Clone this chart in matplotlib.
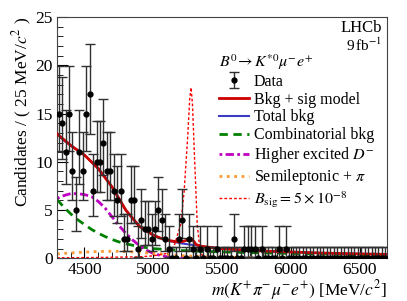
import numpy as np
import matplotlib
matplotlib.use('Agg')
import matplotlib.pyplot as plt

plt.rcParams['font.family'] = ['Liberation Serif', 'DejaVu Serif']
plt.rcParams['mathtext.fontset'] = 'stix'

# data: 25 MeV bins from 4300 to 6700
m_lo, m_hi, m_bin = 4300, 6700, 25
counts = [15, 14, 11, 15, 9, 5, 11, 9, 15, 17,
          7, 10, 10, 12, 9, 9, 7, 6, 7, 2,
          2, 6, 6, 1, 4, 3, 3, 2, 3, 5,
          4, 2, 1, 0, 0, 2, 4, 0, 2, 1,
          0, 1, 0, 1, 0, 0, 1, 0, 0, 0,
          0, 2, 0, 0, 1, 1, 1, 1, 0, 1,
          0, 0, 0, 0, 1, 0, 1, 0, 0, 0,
          0, 0, 0, 0, 0, 0, 0, 0, 0, 0,
          0, 0, 0, 0, 0, 0, 0, 0, 0, 0,
          0, 0, 0, 0, 0, 0]

# poisson 68% intervals (as drawn by RooFit), index = n
pois_lo = [0, 0.173, 0.708, 1.367, 2.086, 2.840, 3.620, 4.419, 5.232, 6.057, 6.891,
           7.734, 8.585, 9.441, 10.30, 11.17, 12.04, 12.92, 13.80, 14.68, 15.57]
pois_hi = [1.147, 3.300, 4.638, 5.918, 7.163, 8.382, 9.584, 10.77, 11.95, 13.11, 14.27,
           15.42, 16.56, 17.70, 18.83, 19.96, 21.08, 22.20, 23.32, 24.44, 25.55]

# fit components
m_bkg = [4300, 4350, 4400, 4450, 4500, 4550, 4600, 4650, 4700, 4750, 4800, 4850,
         4900, 4950, 5000, 5050, 5100, 5150, 5200, 5250, 5300, 5350, 5400, 5500,
         5600, 5800, 6000, 6200, 6400, 6700]
tot_bkg = [12.9, 12.2, 11.7, 11.2, 10.7, 10.0, 9.3, 8.4, 7.4, 6.2, 5.0, 4.1,
           3.3, 2.8, 2.4, 2.1, 1.85, 1.7, 1.55, 1.45, 1.35, 1.25, 1.15, 1.0,
           0.9, 0.75, 0.65, 0.55, 0.48, 0.4]
comb = [6.1, 5.3, 4.6, 4.0, 3.5, 3.0, 2.6, 2.25, 1.95, 1.7, 1.5, 1.35,
        1.2, 1.1, 1.0, 0.95, 0.9, 0.85, 0.8, 0.78, 0.75, 0.72, 0.7, 0.66,
        0.62, 0.55, 0.5, 0.45, 0.4, 0.35]
higher_d = [6.2, 6.5, 6.7, 6.7, 6.6, 6.4, 5.9, 5.2, 4.3, 3.4, 2.6, 1.9,
            1.3, 0.85, 0.5, 0.3, 0.15, 0.07, 0.03, 0.01, 0, 0, 0, 0,
            0, 0, 0, 0, 0, 0]
semilep = [0.45, 0.5, 0.55, 0.6, 0.63, 0.67, 0.7, 0.71, 0.72, 0.71, 0.7, 0.66,
           0.62, 0.56, 0.5, 0.44, 0.38, 0.33, 0.28, 0.24, 0.2, 0.17, 0.15, 0.12,
           0.1, 0.07, 0.05, 0.04, 0.03, 0.02]

m_model = [4300, 4400, 4500, 4600, 4700, 4800, 4900, 5000, 5050, 5100, 5150, 5200,
           5225, 5250, 5265, 5280, 5295, 5310, 5330, 5360, 5400, 5500, 5600, 5800,
           6000, 6200, 6400, 6700]
model = [12.9, 11.7, 10.7, 9.3, 7.4, 5.0, 3.3, 2.4, 2.1, 1.88, 1.75, 1.7,
         1.78, 1.9, 2.0, 2.0, 1.75, 1.45, 1.3, 1.22, 1.15, 1.0, 0.9, 0.75,
         0.65, 0.55, 0.48, 0.4]

m_sig = [4300, 4600, 4900, 5000, 5100, 5150, 5200, 5225, 5250, 5265, 5275,
         5285, 5300, 5320, 5340, 5360, 5400, 6700]
sig = [0.05, 0.08, 0.15, 0.25, 0.5, 1.2, 3.5, 7.0, 12.5, 16.5, 17.7,
       16.0, 10.5, 3.5, 0.8, 0.2, 0.05, 0.0]

fig = plt.figure(figsize=(4.07, 3.01), dpi=100)
ax = fig.add_axes([0.14, 0.142, 0.811, 0.801])

centers = np.arange(m_lo, m_hi, m_bin) + m_bin / 2
n = np.array(counts)
yerr = [n - np.array(pois_lo)[n], np.array(pois_hi)[n] - n]

ax.plot(m_model, model, '-', color='#cc0000', lw=2, label='Bkg + sig model', zorder=3)
ax.plot(m_bkg, tot_bkg, '-', color='#3b3bc4', lw=1.5, label='Total bkg', zorder=2)
ax.plot(m_bkg, comb, '--', color='#008000', lw=2, dashes=(3, 2), label='Combinatorial bkg')
ax.plot(m_bkg, higher_d, color='#c000c0', lw=2, dashes=(1, 1.2, 3, 1.2),
        label=r'Higher excited $D^{-}$')
ax.plot(m_bkg, semilep, ':', color='#ff9933', lw=2, label=r'Semileptonic + $\pi$')
ax.plot(m_sig, sig, '--', color='#ff0000', lw=1, dashes=(2, 1.5),
        label=r'$B_{\rm sig} = 5\times10^{-8}$')
ax.errorbar(centers, n, yerr=yerr, fmt='o', color='black', ecolor='#303030',
            ms=3.5, elinewidth=1, capsize=3.5, capthick=1, label='Data', zorder=4)

ax.set_xlim(m_lo, m_hi)
ax.set_ylim(0, 25)
ax.set_xticks([4500, 5000, 5500, 6000, 6500])
ax.set_xticks(np.arange(4300, 6701, 100), minor=True)
ax.set_yticks([0, 5, 10, 15, 20, 25])
ax.set_yticks(np.arange(0, 26, 1), minor=True)
ax.tick_params(which='both', direction='in', labelsize=12.5, top=False, right=False)
ax.tick_params(which='major', length=8, pad=3)
ax.tick_params(which='minor', length=4)
for s in ax.spines.values():
    s.set_color('#444444')

ax.set_xlabel(r'$m(K^{+}\pi^{-}\mu^{-}e^{+})$ [MeV/$c^2$]', fontsize=12.5, loc='right',
              labelpad=0)
ax.set_ylabel(r'Candidates / ( 25 MeV/$c^2$ )', fontsize=12.5, loc='top', labelpad=1)

ax.text(0.985, 0.955, 'LHCb', transform=ax.transAxes, ha='right', va='center', fontsize=12)
ax.text(0.985, 0.885, r'9$\,$fb$^{-1}$', transform=ax.transAxes, ha='right', va='center',
        fontsize=11)

handles, labels = ax.get_legend_handles_labels()
order = ['Data', 'Bkg + sig model', 'Total bkg', 'Combinatorial bkg',
         r'Higher excited $D^{-}$', r'Semileptonic + $\pi$', r'$B_{\rm sig} = 5\times10^{-8}$']
hl = [handles[labels.index(o)] for o in order]
leg = ax.legend(hl, order, loc='upper left', bbox_to_anchor=(0.49, 0.855),
                title=r'$B^0\!\to K^{*0}\mu^{-}e^{+}$', alignment='left',
                frameon=False, fontsize=11.5, title_fontsize=11.5,
                handlelength=1.9, handletextpad=0.3, labelspacing=0.12,
                borderpad=0, borderaxespad=0)

fig.savefig('out.png', dpi=100)
